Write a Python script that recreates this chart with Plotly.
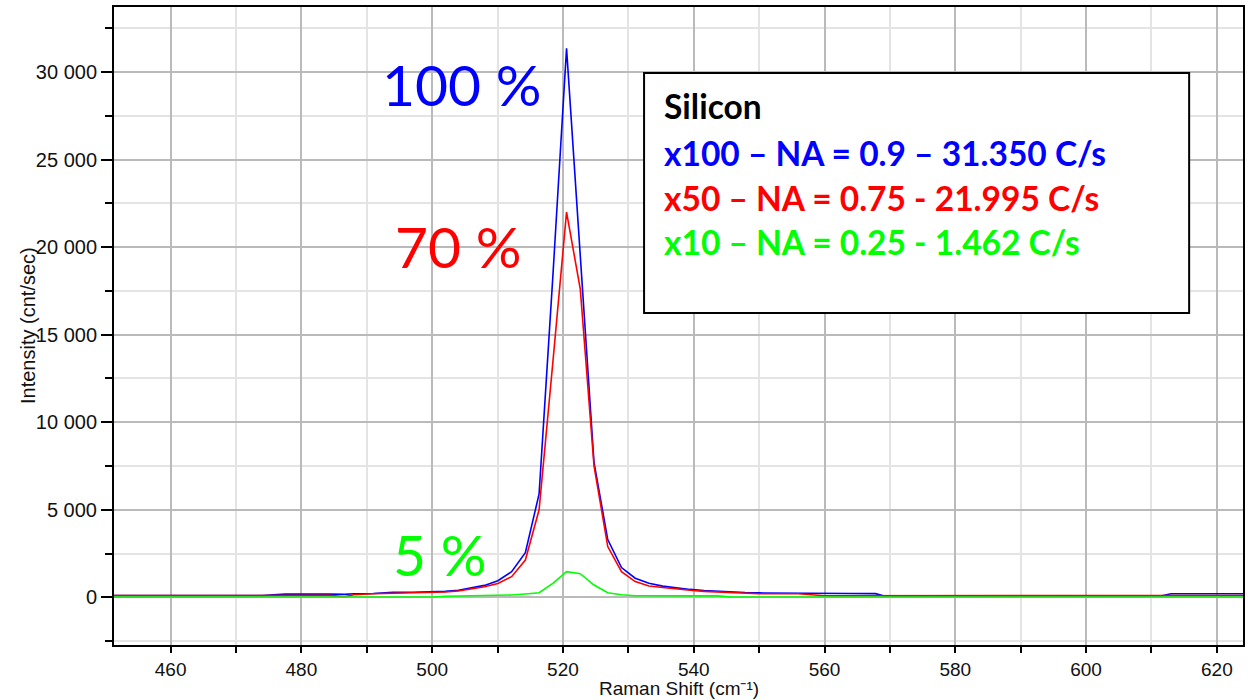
import plotly.graph_objects as go

# Raman shift positions (cm-1) shared by the three spectra
raman_shift = [451.3, 458, 466, 474, 477.5, 480, 484.4, 486.6, 488, 491, 494, 497, 500,
               502, 504, 506, 508, 510.05, 512.15, 514.25, 516.35, 518.45, 520.55,
               522.65, 524.75, 526.85, 528.95, 531.05, 533.15, 535.25, 537.35, 539.45,
               541.55, 543.65, 545.75, 547.85, 549.95, 552, 556, 560, 564, 567.8, 569,
               575, 585, 595, 605, 611.6, 613, 618, 624]

# Intensity (cnt/sec) for each objective
x100_na09 = [100, 100, 100, 100, 180, 190, 190, 170, 200, 220, 280, 290, 300,
             340, 400, 520, 680, 950, 1460, 2550, 5900, 18300, 31350,
             19500, 7700, 3300, 1700, 1090, 800, 640, 540, 450,
             390, 340, 300, 270, 250, 240, 230, 220, 220, 210, 90,
             90, 90, 90, 90, 90, 200, 200, 200]
x50_na075 = [100, 100, 100, 100, 100, 110, 110, 30, 150, 200, 220, 240, 260,
             300, 360, 460, 600, 790, 1180, 2130, 5000, 13400, 21995,
             17600, 7500, 2900, 1460, 900, 650, 560, 470, 400,
             340, 300, 260, 230, 200, 200, 200, 90, 90, 90, 90,
             90, 90, 90, 90, 90, 100, 100, 100]
x10_na025 = [10, 10, 10, 10, 10, 10, 10, 10, 10, 10, 10, 15, 20,
             60, 70, 80, 90, 95, 130, 190, 260, 800, 1462,
             1350, 700, 260, 150, 90, 80, 80, 80, 80,
             80, 80, 20, 20, 20, 20, 20, 20, 20, 20, 20,
             20, 20, 20, 20, 20, 20, 20, 20]

series = [
    ("x100", x100_na09, "#0000FF"),
    ("x50", x50_na075, "#FF0000"),
    ("x10", x10_na025, "#00FF00"),
]

# Percent labels and legend-box lines
pct_labels = ["100 %", "70 %", "5 %"]
box_title = "Silicon"
box_lines = ["x100 – NA = 0.9 – 31.350 C/s",
             "x50 – NA = 0.75 - 21.995 C/s",
             "x10 – NA = 0.25 - 1.462 C/s"]
x_title = "Raman Shift (cm⁻¹)"
y_title = "Intensity (cnt/sec)"

fig = go.Figure()
for name, vals, col in series:
    fig.add_trace(go.Scatter(x=raman_shift, y=vals, mode="lines", name=name,
                             line=dict(color=col, width=1.6), showlegend=False))

sans = "Liberation Sans, Arial, sans-serif"

fig.update_xaxes(
    range=[451.34, 624.0], tick0=0, dtick=20, ticks="outside", ticklen=6,
    tickwidth=1.5, tickcolor="#000", tickfont=dict(family=sans, size=19, color="#111"),
    showline=True, linecolor="#000", linewidth=2, mirror=True,
    showgrid=True, gridcolor="#bababa", gridwidth=2, zeroline=False,
    minor=dict(dtick=10, ticks="outside", ticklen=6, tickcolor="#000",
               showgrid=True, gridcolor="#e4e4e4", gridwidth=1.5),
)
fig.update_yaxes(
    range=[-2724, 33712], tick0=0, dtick=5000, tickformat=",d", ticks="outside",
    ticklen=11, tickwidth=1.5, tickcolor="#000",
    tickfont=dict(family=sans, size=20, color="#111"),
    showline=True, linecolor="#000", linewidth=2, mirror=True,
    showgrid=True, gridcolor="#bababa", gridwidth=2, zeroline=False,
    minor=dict(dtick=2500, ticks="outside", ticklen=7, tickcolor="#000",
               showgrid=True, gridcolor="#e4e4e4", gridwidth=1.5),
)

# Axis titles
fig.add_annotation(x=0.5, y=0, xref="paper", yref="paper", text=x_title,
                   showarrow=False, xanchor="center", yanchor="middle", yshift=-43,
                   font=dict(family=sans, size=19, color="#111"))
fig.add_annotation(x=0, y=0.5, xref="paper", yref="paper", text=y_title,
                   showarrow=False, xanchor="center", yanchor="middle", xshift=-86,
                   textangle=-90, font=dict(family=sans, size=20, color="#111"))

# Legend box
fig.add_shape(type="rect", xref="paper", yref="paper",
              x0=0.4695, x1=0.9523, y0=0.5204, y1=0.8966,
              line=dict(color="#000", width=2), fillcolor="#fff", layer="above")

pct_pos = [(0.2352, 0.880), (0.2475, 0.625), (0.2450, 0.143)]
for text, (_, _, col), (px, py) in zip(pct_labels, series, pct_pos):
    fig.add_annotation(x=px, y=py, xref="paper", yref="paper", text=text,
                       showarrow=False, xanchor="left", yanchor="middle",
                       font=dict(family="Lato, sans-serif", size=57, color=col))

fig.add_annotation(x=0.4855, y=0.845, xref="paper", yref="paper",
                   text="<b>" + box_title + "</b>", showarrow=False,
                   xanchor="left", yanchor="middle",
                   font=dict(family="Lato, sans-serif", size=33.5, color="#000"))
for text, (_, _, col), py in zip(box_lines, series, [0.771, 0.701, 0.632]):
    fig.add_annotation(x=0.4855, y=py, xref="paper", yref="paper",
                       text="<b>" + text + "</b>", showarrow=False,
                       xanchor="left", yanchor="middle",
                       font=dict(family="Lato, sans-serif", size=33.5, color=col))

fig.update_layout(
    width=1248, height=700, margin=dict(l=114, r=3, t=7, b=55),
    plot_bgcolor="#fff", paper_bgcolor="#fff", separators=". ",
    font=dict(family=sans, color="#111"),
)

fig.write_html("out.html")
